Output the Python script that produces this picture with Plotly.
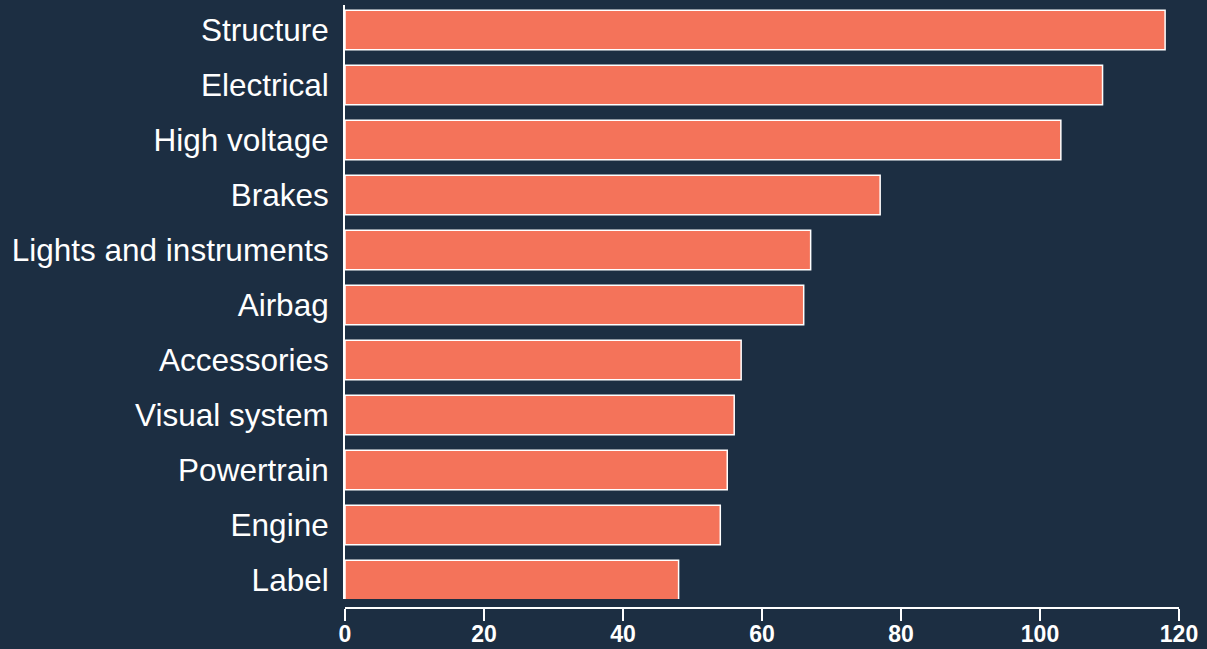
import plotly.graph_objects as go

categories = ["Label", "Engine", "Powertrain", "Visual system", "Accessories", "Airbag",
              "Lights and instruments", "Brakes", "High voltage", "Electrical", "Structure"]
values = [48, 54, 55, 56, 57, 66, 67, 77, 103, 109, 118]
x_ticks = [0, 20, 40, 60, 80, 100, 120]

BG = "#1c2e42"
BAR = "#f4735a"
FONT = "Arial, Liberation Sans, sans-serif"

fig = go.Figure()

fig.add_trace(
    go.Bar(
        x=values,
        y=categories,
        orientation="h",
        marker=dict(color=BAR, line=dict(color="white", width=1.5)),
        width=0.72,
        hovertemplate="%{y}: %{x}<extra></extra>",
    )
)

fig.update_layout(
    width=1207,
    height=649,
    paper_bgcolor=BG,
    plot_bgcolor=BG,
    margin=dict(l=345, r=28, t=5, b=41),
    showlegend=False,
    font=dict(family=FONT, color="white"),
    xaxis=dict(
        range=[0, 120],
        tickvals=x_ticks,
        ticks="outside",
        ticklen=12,
        tickwidth=2,
        tickcolor="white",
        showline=True,
        linecolor="white",
        linewidth=2,
        showgrid=False,
        zeroline=False,
        anchor="free",
        position=0,
        automargin=False,
        ticklabelstandoff=-7,
        tickfont=dict(size=23, color="white", family=FONT, weight="bold"),
    ),
    yaxis=dict(
        domain=[0.015, 1],
        range=[-0.345, 10.455],
        showline=True,
        linecolor="white",
        linewidth=2,
        showgrid=False,
        zeroline=False,
        automargin=False,
        ticks="",
        ticklabelstandoff=8,
        tickfont=dict(size=31.5, color="white", family=FONT),
    ),
)

fig.write_html(
    "out.html",
    config=dict(displayModeBar=False),
    post_script="document.body.style.margin='0';document.body.style.overflow='hidden';",
)
